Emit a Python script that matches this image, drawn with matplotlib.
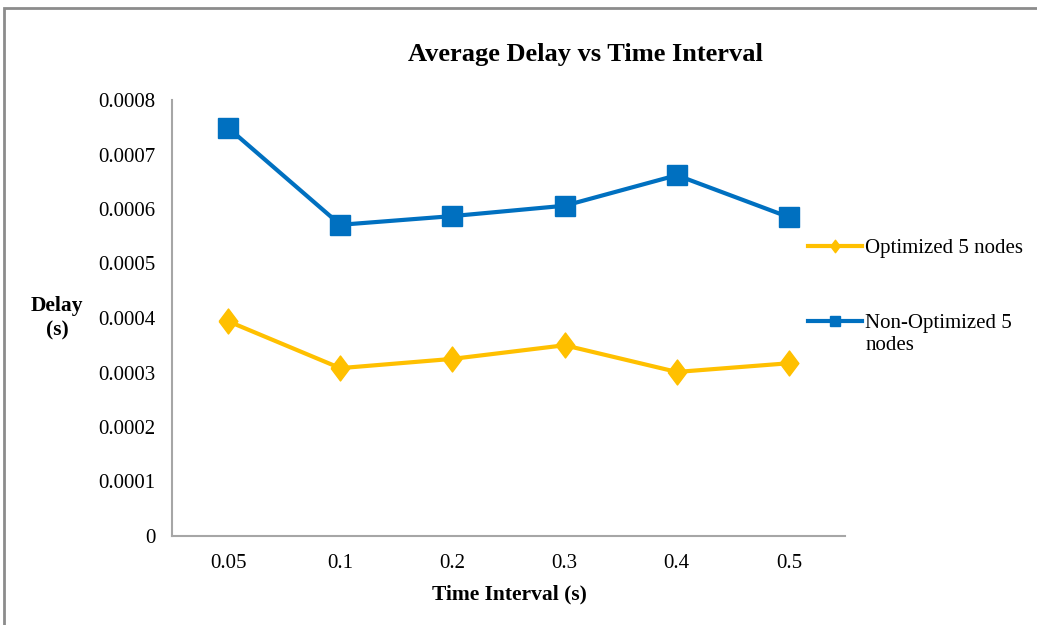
import matplotlib.pyplot as plt
from matplotlib.patches import Rectangle

# Delay measurements per sending interval
intervals = ['0.05', '0.1', '0.2', '0.3', '0.4', '0.5']
optimized = [0.000394, 0.000308, 0.000325, 0.000350, 0.000301, 0.000317]
non_optimized = [0.000749, 0.000571, 0.000587, 0.000606, 0.000662, 0.000585]

plt.rcParams['font.family'] = ['Liberation Serif', 'DejaVu Serif']

fig = plt.figure(figsize=(10.37, 6.25), dpi=100)
ax = fig.add_axes([0.1659, 0.1424, 0.649, 0.6976])

# grey frame around the chart area
fig.patches.append(Rectangle((3.5 / 1037, -0.1), 2, 1.1 - 7.5 / 625,
                             transform=fig.transFigure, fill=False,
                             edgecolor='#8c8c8c', linewidth=2))

x = range(len(intervals))
diamond = [(-0.75, 0), (0, 1), (0.75, 0), (0, -1), (-0.75, 0)]

ax.plot(x, optimized, color='#FFC000', linewidth=3, marker=diamond,
        markersize=18, label='Optimized 5 nodes')
ax.plot(x, non_optimized, color='#0070C0', linewidth=3, marker='s',
        markersize=15, label='Non-Optimized 5')

ax.set_xlim(-0.5, 5.5)
ax.set_ylim(0, 0.0008)
ax.set_xticks(list(x))
ax.set_xticklabels(intervals)
ax.set_yticks([i * 0.0001 for i in range(9)])
ax.set_yticklabels(['0'] + ['%.4f' % (i * 0.0001) for i in range(1, 9)])
ax.tick_params(length=0, labelsize=15, pad=12)
ax.tick_params(axis='x', pad=13)

for side in ['top', 'right']:
    ax.spines[side].set_visible(False)
for side in ['left', 'bottom']:
    ax.spines[side].set_color('#a6a6a6')
    ax.spines[side].set_linewidth(1.5)

fig.text(585 / 1037, 1 - 55 / 625, 'Average Delay vs Time Interval',
         ha='center', va='center', fontsize=19, fontweight='bold')
fig.text(509 / 1037, 1 - 594 / 625, 'Time Interval (s)',
         ha='center', va='center', fontsize=15.5, fontweight='bold')
fig.text(57 / 1037, 1 - 318 / 625, 'Delay\n(s)',
         ha='center', va='center', fontsize=15.5, fontweight='bold',
         linespacing=1.3)

ax.legend(loc='upper left', bbox_to_anchor=(789 / 1037, 1 - 220 / 625),
          bbox_transform=fig.transFigure, frameon=False, fontsize=15,
          handlelength=2.6, handletextpad=0.15, labelspacing=2.65,
          markerscale=0.5)
# second line of the non-optimized legend label
fig.text(866 / 1037, 1 - 345 / 625, 'nodes', ha='left', va='center',
         fontsize=15)

fig.savefig('out.png', dpi=100)
